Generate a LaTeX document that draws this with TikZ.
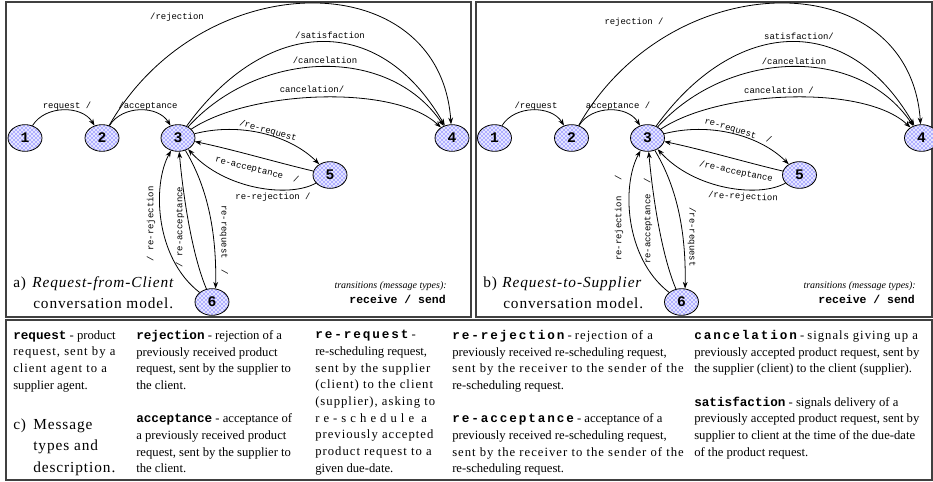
\documentclass[tikz,border=0pt]{standalone}
\usepackage{fontspec}
\setmainfont{Liberation Serif}
\setmonofont{Liberation Mono}
\newfontfamily\spacedfont[LetterSpace=6]{Liberation Serif}
\newfontfamily\looseserif[LetterSpace=8]{Liberation Serif}
\newfontfamily\widestserif[LetterSpace=32]{Liberation Serif}
\newfontfamily\keywidefont[LetterSpace=15]{Liberation Mono}
\usetikzlibrary{arrows.meta,shapes.geometric,patterns}

\newcommand{\kw}[1]{{\ttfamily\bfseries\fontsize{9.5}{12.5}\selectfont #1}}
\newcommand{\kww}[1]{{\keywidefont\bfseries\fontsize{9.5}{12.5}\selectfont #1}}
\newcommand{\loose}[1]{{\looseserif #1}}

\begin{document}
\begin{tikzpicture}[x=0.75pt,y=0.75pt]
    \tikzstyle{state_style}=[ellipse, draw, line width=0.6pt, minimum width=25.5pt, minimum height=20pt, inner sep=0pt, preaction={fill=blue!10}, pattern=crosshatch dots, pattern color=blue, font=\ttfamily\bfseries\fontsize{11}{11}\selectfont]
    \tikzstyle{trans_style}=[-{Stealth[length=5pt,width=3.6pt]}, line width=0.6pt]
    \tikzstyle{msg_style}=[inner sep=0.5pt, font=\ttfamily\fontsize{6.7}{8}\selectfont]
    \tikzstyle{frame_style}=[draw=black!75, line width=0.8pt]
    \tikzstyle{caption_style}=[inner sep=0pt, anchor=base west, font=\spacedfont\fontsize{11.5}{16}\selectfont]
    \tikzstyle{legend_style}=[inner sep=0pt, anchor=base east]
    \tikzstyle{desc_style}=[inner sep=0pt, anchor=north west, align=left, font=\fontsize{9.5}{12.5}\selectfont]

    \useasboundingbox (0,0) rectangle (933,-482);

    % frames
    \draw[frame_style] (6,-2) rectangle (471,-317);
    \draw[frame_style] (476,-2) rectangle (932,-317);
    \draw[frame_style] (6,-320) rectangle (932,-480);

    % conversation models: rc = request-from-client, rs = request-to-supplier
    \foreach \p/\s in {rc/0,rs/469.5}{
      \begin{scope}[xshift=\s*0.75pt]
        % states
        \foreach \n/\x/\y in {1/25/138,2/102/138,3/178/138,4/452/138,5/330/175,6/212/302}
          \draw node at (\x,-\y) [state_style] (\p_\n) {\n};

        % transitions
        \draw[trans_style] (\p_1) .. controls (45,-105) and (82,-105) .. (\p_2);
        \draw[trans_style] (\p_2) .. controls (122,-105) and (158,-105) .. (\p_3);
        \draw[trans_style] (\p_2) .. controls (202,37) and (440,37) .. (\p_4);
        \draw[trans_style] (\p_3) .. controls (265,-18) and (378,-10) .. (\p_4);
        \draw[trans_style] (\p_3) .. controls (258,-50) and (388,-44) .. (\p_4);
        \draw[trans_style] (\p_3) .. controls (250,-90) and (395,-84) .. (\p_4);
        \draw[trans_style] (\p_3) .. controls (240,-122) and (290,-135) .. (\p_5);
        \draw[trans_style] (\p_5) .. controls (275,-162) and (235,-150) .. (\p_3);
        \draw[trans_style] (\p_5) .. controls (290,-198) and (225,-190) .. (\p_3);
        \draw[trans_style] (\p_6) .. controls (155,-258) and (152,-185) .. (\p_3);
        \draw[trans_style] (\p_6) .. controls (192,-255) and (183,-195) .. (\p_3);
        \draw[trans_style] (\p_3) .. controls (200,-175) and (217,-215) .. (\p_6.75);
      \end{scope}
    }

    % labels: request-from-client
    \node[msg_style] (rc_l12) at (67,-106) {request /};
    \node[msg_style] (rc_l23) at (148,-106) {/acceptance};
    \node[msg_style] (rc_l24) at (177,-17) {/rejection};
    \node[msg_style] (rc_lsat) at (330,-35) {/satisfaction};
    \node[msg_style] (rc_lcan) at (325,-60) {/cancelation};
    \node[msg_style] (rc_lcan_r) at (312,-89) {cancelation/};
    \node[msg_style, rotate=-16] (rc_l35) at (268,-131) {/re-request};
    \node[msg_style, rotate=-14] (rc_l53a) at (257,-170) {re-acceptance~~/};
    \node[msg_style] (rc_l53r) at (273,-197) {re-rejection /};
    \node[msg_style, rotate=90] (rc_l63r) at (151,-224) {/ re-rejection};
    \node[msg_style, rotate=90] (rc_l63a) at (180,-227) {/ re-acceptance};
    \node[msg_style, rotate=-90] (rc_l36) at (224,-240) {re-request~~/};

    % labels: request-to-supplier
    \node[msg_style] (rs_l12) at (536,-106) {/request};
    \node[msg_style] (rs_l23) at (618,-106) {acceptance /};
    \node[msg_style] (rs_l24) at (634,-22) {rejection /};
    \node[msg_style] (rs_lsat) at (799,-36) {satisfaction/};
    \node[msg_style] (rs_lcan) at (794,-61) {/cancelation};
    \node[msg_style] (rs_lcan_r) at (779,-90) {cancelation /};
    \node[msg_style, rotate=-17] (rs_l35) at (738,-131) {re-request~~/};
    \node[msg_style, rotate=-12] (rs_l53a) at (736,-172) {/re-acceptance};
    \node[msg_style, rotate=-3] (rs_l53r) at (743,-197) {/re-rejection};
    \node[msg_style, rotate=90] (rs_l63r) at (619,-218) {re-rejection~~~/};
    \node[msg_style, rotate=90] (rs_l63a) at (648,-221) {re-acceptance~~/};
    \node[msg_style, rotate=-90] (rs_l36) at (692,-237) {/re-request};

    % captions
    \node[caption_style] (rc_tag) at (13,-287) {a)};
    \node[caption_style] (rc_title) at (32,-287) {\itshape Request-from-Client};
    \node[caption_style] (rc_model) at (33,-308) {conversation model.};
    \node[caption_style] (rs_tag) at (483,-287) {b)};
    \node[caption_style] (rs_title) at (502,-287) {\itshape Request-to-Supplier};
    \node[caption_style] (rs_model) at (503,-308) {conversation model.};

    % legends
    \node[legend_style, font=\itshape\fontsize{7.5}{9}\selectfont] (rc_legend) at (447,-288) {transitions (message types):};
    \node[legend_style, font=\ttfamily\bfseries\fontsize{8.6}{10}\selectfont] (rc_legend_rs) at (446,-303) {receive / send};
    \node[legend_style, font=\itshape\fontsize{7.5}{9}\selectfont] (rs_legend) at (916,-288) {transitions (message types):};
    \node[legend_style, font=\ttfamily\bfseries\fontsize{8.6}{10}\selectfont] (rs_legend_rs) at (915,-303) {receive / send};

    % message types and description
    \node[desc_style] (tb_req) at (13,-330) {\kw{request} - product\\\loose{request, sent by a}\\\loose{client agent to a}\\supplier agent.};
    \node[caption_style] (tb_tag) at (13,-429) {c)};
    \foreach \i/\t in {1/Message,2/types and,3/description.}
      \node[caption_style] (tb_title_\i) at (33,-407.5-21.5*\i) {\t};
    \node[desc_style] (tb_rej) at (136,-330) {\kw{rejection} - rejection of a\\previously received product\\request, sent by the supplier to\\the client.\\[12.5pt]\kw{acceptance} - acceptance of\\a previously received product\\request, sent by the supplier to\\the client.};
    \node[desc_style] (tb_rereq) at (315,-330) {\kww{re-request} -\\re-scheduling request,\\\loose{sent by the supplier}\\\loose{(client) to the client}\\\loose{(supplier), asking to}\\{\widestserif re-schedule a}\\\loose{previously accepted}\\\loose{product request to a}\\given due-date.};
    \node[desc_style] (tb_rerej) at (452,-330) {\kww{re-rejection} - \loose{rejection of a}\\previously received re-scheduling request,\\\loose{sent by the receiver to the sender of the}\\re-scheduling request.\\[12.5pt]\kww{re-acceptance} - acceptance of a\\previously received re-scheduling request,\\\loose{sent by the receiver to the sender of the}\\re-scheduling request.};
    \node[desc_style] (tb_cancel) at (694,-330) {\kww{cancelation} - \loose{signals giving up a}\\previously accepted product request, sent by\\the supplier (client) to the client (supplier).\\[12.5pt]\kw{satisfaction} - signals delivery of a\\previously accepted product request, sent by\\supplier to client at the time of the due-date\\of the product request.};

\end{tikzpicture}
\end{document}
